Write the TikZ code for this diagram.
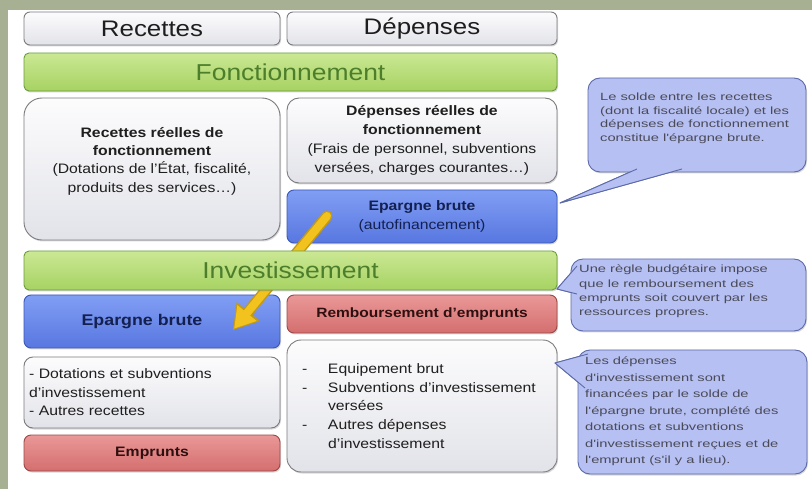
\documentclass[tikz,border=0pt]{standalone}
\usepackage{fontspec}
\setmainfont{Liberation Sans}[FakeStretch=1.15]
\newfontfamily\calfont{Liberation Sans}[FakeStretch=1.4]
\usetikzlibrary{shadows,arrows.meta}
\definecolor{bgb}{HTML}{A8B094}
\definecolor{greyT}{HTML}{FCFCFD}
\definecolor{greyB}{HTML}{E2E3E9}
\definecolor{greyD}{HTML}{7C7C80}
\definecolor{grT}{HTML}{CBE894}
\definecolor{grB}{HTML}{A6D262}
\definecolor{grD}{HTML}{6C9C3C}
\definecolor{grTxt}{HTML}{4C7E2C}
\definecolor{blT}{HTML}{819EF4}
\definecolor{blB}{HTML}{5877E0}
\definecolor{blD}{HTML}{3A58B8}
\definecolor{blTxt}{HTML}{142050}
\definecolor{rdT}{HTML}{EA9898}
\definecolor{rdB}{HTML}{D46E6E}
\definecolor{rdD}{HTML}{9C4848}
\definecolor{rdTxt}{HTML}{2E1010}
\definecolor{calF}{HTML}{B6C0F2}
\definecolor{calD}{HTML}{5C6AA8}
\definecolor{calTxt}{HTML}{4A4A58}
\definecolor{arrY}{HTML}{F2C21E}
\definecolor{arrO}{HTML}{C49A12}
\definecolor{txt}{HTML}{1E1E1E}
\begin{document}
\begin{tikzpicture}[x=1pt,y=-1pt,
  boxbase/.style={draw, line width=0.9pt, inner sep=0pt,
    drop shadow={opacity=0.3, shadow xshift=1pt, shadow yshift=-1.5pt}},
  greybox/.style={boxbase, rounded corners=6pt, top color=greyT, bottom color=greyB, draw=greyD, text=txt},
  greenbar/.style={boxbase, rounded corners=5pt, top color=grT, bottom color=grB, draw=grD, text=grTxt,
    font=\fontsize{23}{27}\selectfont},
  bluebox/.style={boxbase, rounded corners=7pt, top color=blT, bottom color=blB, draw=blD, text=blTxt},
  redbox/.style={boxbase, rounded corners=7pt, top color=rdT, bottom color=rdB, draw=rdD, text=rdTxt},
  hdrfont/.style={font=\fontsize{22.5}{27}\selectfont},
  bodyfont/.style={font=\fontsize{13.7}{#1}\selectfont},
  callout/.style={draw=calD, fill=calF, line width=0.9pt, rounded corners=12pt, inner sep=0pt,
    drop shadow={opacity=0.3, shadow xshift=1pt, shadow yshift=-1.5pt}},
  tailfill/.style={fill=calF},
  tailline/.style={draw=calD, fill=calF, line width=0.9pt, line join=round},
  caltext/.style={anchor=north west, inner sep=0pt, align=left, text=calTxt},
]
\useasboundingbox (0,0) rectangle (812,489);
\fill[white] (0,0) rectangle (812,489);
\fill[bgb] (0,0) rectangle (812,10);
\fill[bgb] (0,0) rectangle (8,489);

% headers
\node[greybox, hdrfont, minimum width=256pt, minimum height=33pt] (rec) at (152,28.5) {Recettes};
\node[greybox, hdrfont, minimum width=270pt, minimum height=33pt] (dep) at (422,28.5) {Dépenses};
\node[greenbar, minimum width=533pt, minimum height=38pt] (fon) at (290.5,72) {Fonctionnement};

% fonctionnement boxes
\node[greybox, rounded corners=18pt, minimum width=256pt, minimum height=142pt] (rrf) at (152,169) {};
\node[bodyfont=18.3, align=center, text=txt, inner sep=0pt] (rrfT) at (152,161)
  {\textbf{Recettes réelles de}\\\textbf{fonctionnement}\\(Dotations de l'État, fiscalité,\\produits des services…)};
\node[greybox, rounded corners=12pt, minimum width=270pt, minimum height=85pt, bodyfont=18.8, align=center] (drf) at (422,140.5)
  {\textbf{Dépenses réelles de}\\\textbf{fonctionnement}\\(Frais de personnel, subventions\\versées, charges courantes…)};
\node[bluebox, minimum width=270pt, minimum height=53pt, bodyfont=18.5, align=center] (ep1) at (422,216.5)
  {\textbf{Epargne brute}\\(autofinancement)};

% investissement boxes
\node[bluebox, minimum width=256pt, minimum height=53pt, font=\fontsize{15.5}{18}\selectfont\bfseries] (ep2) at (152,321.5)
  {Epargne brute\hspace*{20pt}};
\node[redbox, minimum width=270pt, minimum height=38pt, font=\fontsize{13.5}{16}\selectfont\bfseries] (rem) at (422,314)
  {Remboursement d'emprunts};
\node[greybox, rounded corners=9pt, minimum width=256pt, minimum height=71pt, bodyfont=18.5, align=left, text width=246pt] (dot) at (152,392.5)
  {- Dotations et subventions\\d'investissement\\- Autres recettes};
\node[redbox, minimum width=256pt, minimum height=36pt, font=\fontsize{13.7}{16}\selectfont\bfseries] (emp) at (152,453)
  {Emprunts};
\node[greybox, rounded corners=14pt, minimum width=270pt, minimum height=132pt, bodyfont=18.8, align=left, text width=240pt] (equ) at (422,406)
  {\makebox[26pt][l]{-}Equipement brut\\
   \makebox[26pt][l]{-}Subventions d'investissement\\
   \hspace*{26pt}versées\\
   \makebox[26pt][l]{-}Autres dépenses\\
   \hspace*{26pt}d'investissement};

% yellow arrow (behind the Investissement bar)
\coordinate (aS) at (327,216);
\coordinate (aE) at (233,330);
\draw[arrO, line width=11pt, line cap=round, -{Triangle[width=30pt,length=24pt,line width=0pt]}] (aS) -- (aE);
\draw[arrY, line width=8pt, line cap=round, shorten >=2pt, -{Triangle[width=25pt,length=20pt,line width=0pt]}] (aS) -- (aE);

\node[greenbar, minimum width=533pt, minimum height=39pt] (inv) at (290.5,270.5) {Investissement};

% callout 1
\coordinate (t1) at (560,203);
\coordinate (t1a) at (637,169);
\coordinate (t1b) at (682,169);
\draw[tailline] (t1a) -- (t1) -- (t1b);
\node[callout, minimum width=218pt, minimum height=94pt] (c1) at (697,125) {};
\fill[tailfill] (t1a) -- (t1) -- (t1b) -- cycle;
\draw[calD, line width=0.9pt, line join=round] (t1a) -- (t1) -- (t1b);
\node[caltext, font=\calfont\fontsize{10.5}{13.5}\selectfont] (c1t) at (600,93)
  {Le solde entre les recettes\\(dont la fiscalité locale) et les\\dépenses de fonctionnement\\constitue l'épargne brute.};

% callout 2
\coordinate (t2) at (557,289);
\coordinate (t2a) at (577,266);
\coordinate (t2b) at (577,294);
\draw[tailline] (t2a) -- (t2) -- (t2b);
\node[callout, minimum width=235pt, minimum height=72pt] (c2) at (688.5,295) {};
\fill[tailfill] (t2a) -- (t2) -- (t2b) -- cycle;
\draw[calD, line width=0.9pt, line join=round] (t2a) -- (t2) -- (t2b);
\node[caltext, font=\calfont\fontsize{10.5}{14.3}\selectfont] (c2t) at (579,265)
  {Une règle budgétaire impose\\que le remboursement des\\emprunts soit couvert par les\\ressources propres.};

% callout 3
\coordinate (t3) at (555,363);
\coordinate (t3a) at (588,354);
\coordinate (t3b) at (585,388);
\draw[tailline] (t3a) -- (t3) -- (t3b);
\node[callout, minimum width=229pt, minimum height=124pt] (c3) at (692.5,412) {};
\fill[tailfill] (t3a) -- (t3) -- (t3b) -- cycle;
\draw[calD, line width=0.9pt, line join=round] (t3a) -- (t3) -- (t3b);
\node[caltext, font=\calfont\fontsize{10.5}{16.5}\selectfont] (c3t) at (585,357)
  {Les dépenses\\d'investissement sont\\financées par le solde de\\l'épargne brute, complété des\\dotations et subventions\\d'investissement reçues et de\\l'emprunt (s'il y a lieu).};
\end{tikzpicture}
\end{document}
